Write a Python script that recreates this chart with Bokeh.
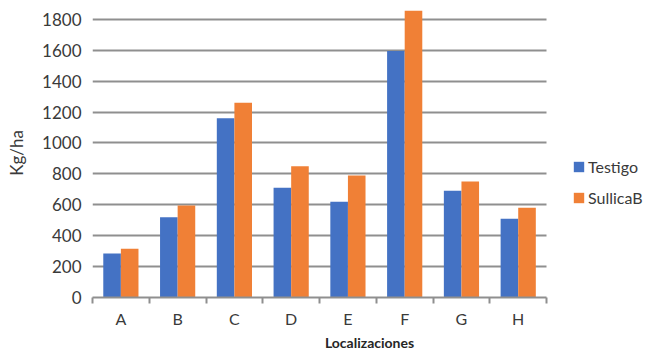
from bokeh.plotting import figure
from bokeh.models import (ColumnDataSource, Range1d, FixedTicker, Legend, LegendItem)
from bokeh.transform import dodge
from bokeh.embed import file_html
from bokeh.resources import INLINE

# Rendimiento por localización (kg/ha)
localizaciones = ["A", "B", "C", "D", "E", "F", "G", "H"]
testigo = [285, 520, 1160, 710, 620, 1595, 690, 510]
sullicab = [315, 595, 1260, 850, 790, 1855, 750, 580]
y_ticks = [0, 200, 400, 600, 800, 1000, 1200, 1400, 1600, 1800]

FONT = "Lato"
BLUE = "#4472C4"
ORANGE = "#F08036"
GRID = "#8f8f8f"
TEXT = "#3a3a3a"

n = len(localizaciones)
slot = list(range(n))  # one slot per location; boundaries fall on the half-steps
src = ColumnDataSource(dict(slot=slot, loc=localizaciones,
                            testigo=testigo, sullicab=sullicab))

# the frame runs to the right edge; the space past the last slot holds the legend
LEGEND_ROOM = 1.76
p = figure(width=646, height=353,
           x_range=Range1d(-0.5, n - 0.5 + LEGEND_ROOM), y_range=Range1d(0, 1870),
           output_backend="svg", toolbar_location=None,
           min_border_left=92, min_border_right=0,
           min_border_top=8, min_border_bottom=55)
p.outline_line_color = None
p.xgrid.visible = False

r1 = p.vbar(x=dodge("slot", -0.155), top="testigo", width=0.31,
            source=src, fill_color=BLUE, line_color=None)
r2 = p.vbar(x=dodge("slot", 0.155), top="sullicab", width=0.31,
            source=src, fill_color=ORANGE, line_color=None)

# y axis: labels only, gridlines in gray over the category slots only
ya = p.yaxis[0]
ya.ticker = FixedTicker(ticks=y_ticks)
ya.axis_line_color = None
ya.major_tick_line_color = None
ya.minor_tick_line_color = None
ya.major_tick_in = 0
ya.major_tick_out = 0
ya.minor_tick_in = 0
ya.minor_tick_out = 0
ya.major_label_text_font = FONT
ya.major_label_text_font_size = "17px"
ya.major_label_text_color = TEXT
ya.major_label_standoff = 11
ya.axis_label = "Kg/ha"
ya.axis_label_text_font = FONT
ya.axis_label_text_font_size = "17px"
ya.axis_label_text_font_style = "normal"
ya.axis_label_text_color = TEXT
ya.axis_label_standoff = 12
p.ygrid.ticker = FixedTicker(ticks=y_ticks)
p.ygrid.grid_line_color = GRID
p.ygrid.grid_line_width = 2
p.ygrid.cross_bounds = (-0.5, n - 0.5)

# x axis: location names centred in their slot, tick marks on the boundaries
xa = p.xaxis[0]
xa.bounds = (-0.5, n - 0.5)
xa.ticker = FixedTicker(ticks=slot, minor_ticks=[s - 0.5 for s in slot] + [n - 0.5])
xa.major_label_overrides = {s: c for s, c in zip(slot, localizaciones)}
xa.axis_label = "Localizaciones"
xa.axis_line_color = GRID
xa.axis_line_width = 2
xa.major_tick_line_color = None
xa.major_tick_in = 0
xa.major_tick_out = 0
xa.minor_tick_line_color = GRID
xa.minor_tick_line_width = 2
xa.minor_tick_in = 0
xa.minor_tick_out = 6
xa.major_label_text_font = FONT
xa.major_label_text_font_size = "16px"
xa.major_label_text_color = TEXT
xa.major_label_standoff = 5
xa.axis_label_text_font = FONT
xa.axis_label_text_font_size = "14px"
xa.axis_label_text_font_style = "bold"
xa.axis_label_text_color = "#262626"
xa.axis_label_standoff = 3

legend = Legend(items=[LegendItem(label="Testigo", renderers=[r1]),
                       LegendItem(label="SullicaB", renderers=[r2])],
                location=(480, 90), orientation="vertical")
legend.border_line_color = None
legend.background_fill_alpha = 0
legend.padding = 0
legend.margin = 0
legend.glyph_width = 13
legend.glyph_height = 13
legend.label_standoff = 3
legend.spacing = 12
legend.label_text_font = FONT
legend.label_text_font_size = "16px"
legend.label_text_color = TEXT
p.add_layout(legend)

open("out.html", "w").write(file_html(p, INLINE))
